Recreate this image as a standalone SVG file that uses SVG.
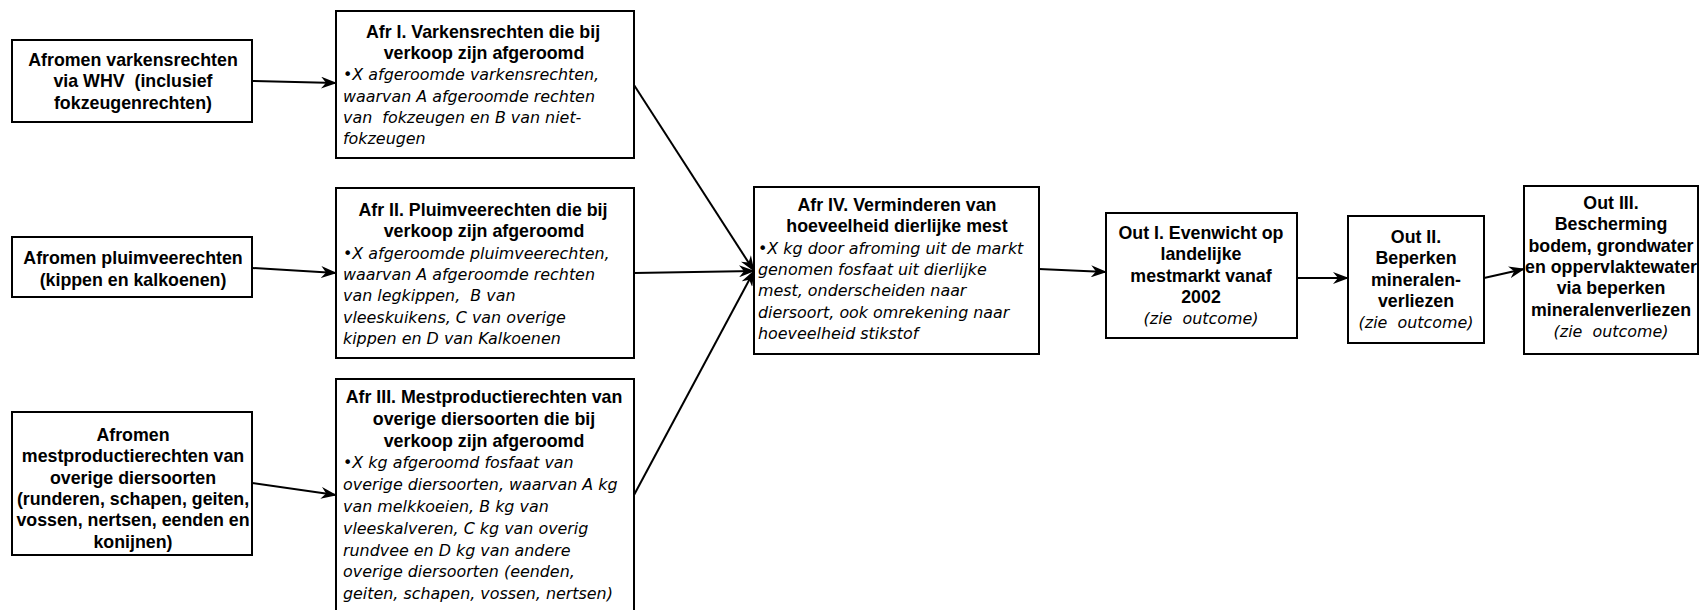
<svg xmlns="http://www.w3.org/2000/svg" width="1702" height="610" viewBox="0 0 1702 610">
<style>
.box{fill:#fff;stroke:#000;stroke-width:2}
.b{font-family:"Liberation Sans",Arial,sans-serif;font-weight:bold;font-size:17.8px;text-anchor:middle;fill:#000;white-space:pre}
.i{font-family:"DejaVu Sans",Verdana,sans-serif;font-style:italic;font-size:15.9px;fill:#000;white-space:pre}
.ic{text-anchor:middle}
.c{fill:none;stroke:#000;stroke-width:2;marker-end:url(#ah)}
</style>
<defs>
<marker id="ah" viewBox="0 0 16 12" refX="15" refY="6" markerWidth="16" markerHeight="12" markerUnits="userSpaceOnUse" orient="auto">
<path d="M0,0 L16,6 L0,12 L5,6 Z" fill="#000"/>
</marker>
</defs>
<rect width="1702" height="610" fill="#fff"/>

<g id="connectors">
<line class="c" x1="252" y1="81" x2="336" y2="83"/>
<line class="c" x1="252" y1="268" x2="336" y2="273"/>
<line class="c" x1="252" y1="483" x2="336" y2="495"/>
<line class="c" x1="634" y1="85" x2="754" y2="271"/>
<line class="c" x1="634" y1="273" x2="754" y2="271"/>
<line class="c" x1="634" y1="495" x2="754" y2="271"/>
<line class="c" x1="1039" y1="269" x2="1106" y2="272"/>
<line class="c" x1="1297" y1="278" x2="1348" y2="278"/>
<line class="c" x1="1484" y1="278" x2="1524" y2="269"/>
</g>

<g id="n-a1">
<rect class="box" x="12" y="40" width="240" height="82"/>
<text class="b"><tspan x="133" y="66">Afromen varkensrechten</tspan><tspan x="133" y="87.3">via WHV  (inclusief</tspan><tspan x="133" y="108.6">fokzeugenrechten)</tspan></text>
</g>

<g id="n-a2">
<rect class="box" x="12" y="237" width="240" height="60"/>
<text class="b"><tspan x="133" y="264">Afromen pluimveerechten</tspan><tspan x="133" y="285.5">(kippen en kalkoenen)</tspan></text>
</g>

<g id="n-a3">
<rect class="box" x="12" y="412" width="240" height="143"/>
<text class="b"><tspan x="133" y="441">Afromen</tspan><tspan x="133" y="462.3">mestproductierechten van</tspan><tspan x="133" y="483.6">overige diersoorten</tspan><tspan x="133" y="504.9">(runderen, schapen, geiten,</tspan><tspan x="133" y="526.2">vossen, nertsen, eenden en</tspan><tspan x="133" y="547.5">konijnen)</tspan></text>
</g>

<g id="n-afr1">
<rect class="box" x="336" y="11" width="298" height="147"/>
<text class="b"><tspan x="483" y="38">Afr I. Varkensrechten die bij</tspan><tspan x="484" y="59.2">verkoop zijn afgeroomd</tspan></text>
<text class="i"><tspan x="343" y="80.4">•X afgeroomde varkensrechten,</tspan><tspan x="343" y="101.6">waarvan A afgeroomde rechten</tspan><tspan x="343" y="122.8">van  fokzeugen en B van niet-</tspan><tspan x="343" y="144">fokzeugen</tspan></text>
</g>

<g id="n-afr2">
<rect class="box" x="336" y="188" width="298" height="170"/>
<text class="b"><tspan x="483" y="216">Afr II. Pluimveerechten die bij</tspan><tspan x="484" y="237.3">verkoop zijn afgeroomd</tspan></text>
<text class="i"><tspan x="343" y="258.6">•X afgeroomde pluimveerechten,</tspan><tspan x="343" y="279.9">waarvan A afgeroomde rechten</tspan><tspan x="343" y="301.2">van legkippen,  B van</tspan><tspan x="343" y="322.5">vleeskuikens, C van overige</tspan><tspan x="343" y="343.8">kippen en D van Kalkoenen</tspan></text>
</g>

<g id="n-afr3">
<rect class="box" x="336" y="379" width="298" height="240"/>
<text class="b"><tspan x="484" y="403">Afr III. Mestproductierechten van</tspan><tspan x="484" y="424.8">overige diersoorten die bij</tspan><tspan x="484" y="446.6">verkoop zijn afgeroomd</tspan></text>
<text class="i"><tspan x="343" y="468.4">•X kg afgeroomd fosfaat van</tspan><tspan x="343" y="490.2">overige diersoorten, waarvan A kg</tspan><tspan x="343" y="512">van melkkoeien, B kg van</tspan><tspan x="343" y="533.8">vleeskalveren, C kg van overig</tspan><tspan x="343" y="555.6">rundvee en D kg van andere</tspan><tspan x="343" y="577.4">overige diersoorten (eenden,</tspan><tspan x="343" y="599.2">geiten, schapen, vossen, nertsen)</tspan></text>
</g>

<g id="n-afr4">
<rect class="box" x="754" y="187" width="285" height="167"/>
<text class="b"><tspan x="897" y="211">Afr IV. Verminderen van</tspan><tspan x="897" y="232.3">hoeveelheid dierlijke mest</tspan></text>
<text class="i"><tspan x="758" y="253.6">•X kg door afroming uit de markt</tspan><tspan x="758" y="274.9">genomen fosfaat uit dierlijke</tspan><tspan x="758" y="296.2">mest, onderscheiden naar</tspan><tspan x="758" y="317.5">diersoort, ook omrekening naar</tspan><tspan x="758" y="338.8">hoeveelheid stikstof</tspan></text>
</g>

<g id="n-out1">
<rect class="box" x="1106" y="213" width="191" height="125"/>
<text class="b"><tspan x="1201" y="239">Out I. Evenwicht op</tspan><tspan x="1201" y="260.3">landelijke</tspan><tspan x="1201" y="281.6">mestmarkt vanaf</tspan><tspan x="1201" y="302.9">2002</tspan></text>
<text class="i ic"><tspan x="1201" y="324.2">(zie  outcome)</tspan></text>
</g>

<g id="n-out2">
<rect class="box" x="1348" y="216" width="136" height="127"/>
<text class="b"><tspan x="1416" y="243">Out II.</tspan><tspan x="1416" y="264.3">Beperken</tspan><tspan x="1416" y="285.6">mineralen-</tspan><tspan x="1416" y="306.9">verliezen</tspan></text>
<text class="i ic"><tspan x="1416" y="328.2">(zie  outcome)</tspan></text>
</g>

<g id="n-out3">
<rect class="box" x="1524" y="186" width="174" height="168"/>
<text class="b"><tspan x="1611" y="209">Out III.</tspan><tspan x="1611" y="230.3">Bescherming</tspan><tspan x="1611" y="251.6">bodem, grondwater</tspan><tspan x="1611" y="272.9">en oppervlaktewater</tspan><tspan x="1611" y="294.2">via beperken</tspan><tspan x="1611" y="315.5">mineralenverliezen</tspan></text>
<text class="i ic"><tspan x="1611" y="336.8">(zie  outcome)</tspan></text>
</g>
</svg>
